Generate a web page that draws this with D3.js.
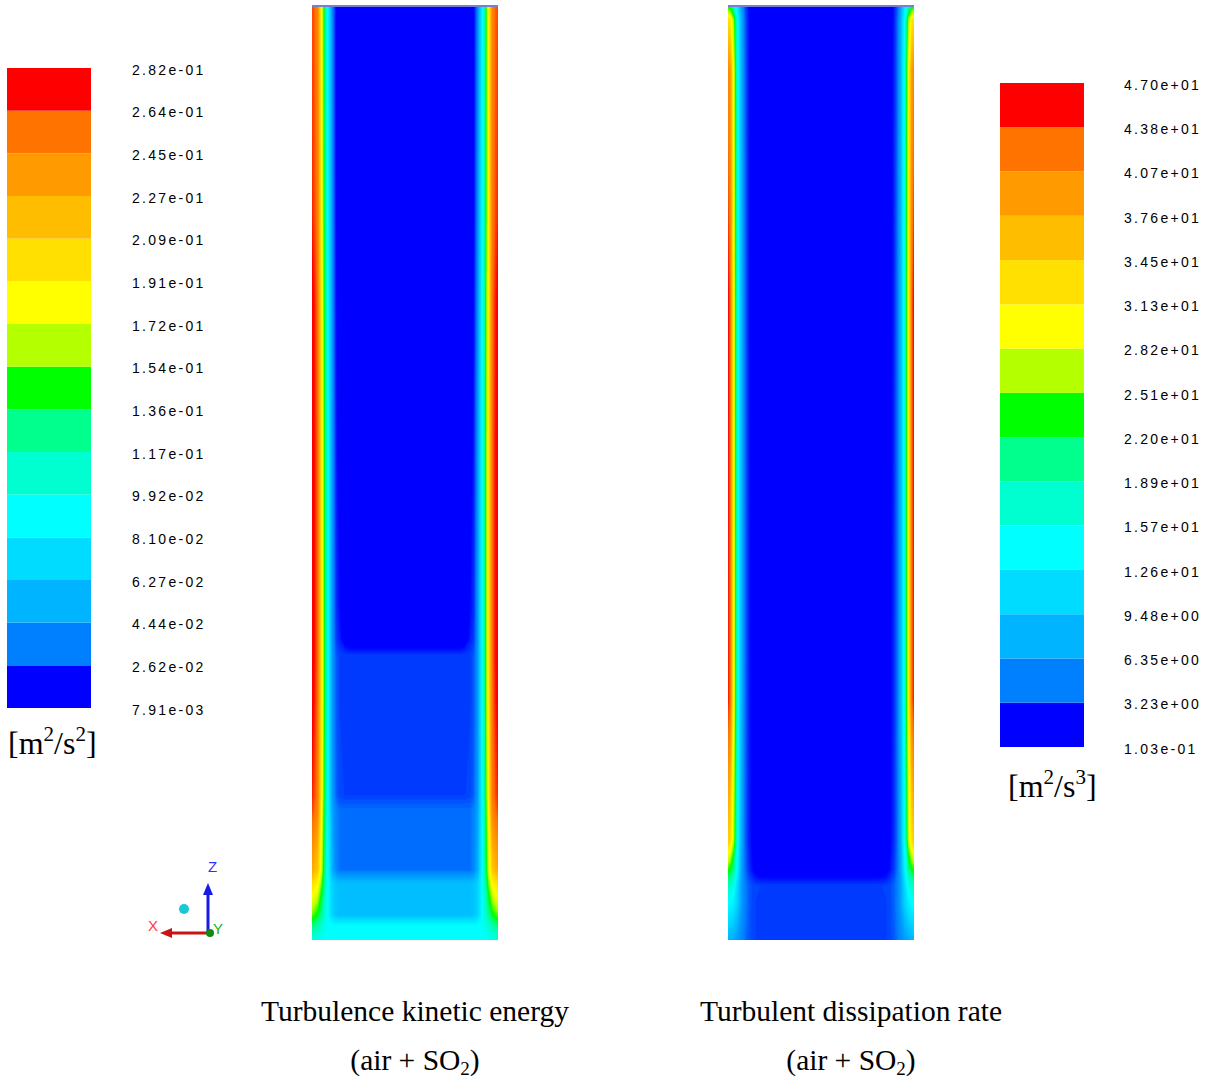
<!DOCTYPE html>
<html>
<head>
<meta charset="utf-8">
<script src="https://cdn.jsdelivr.net/npm/d3@7"></script>
<style>
    body { margin: 0; background: #fff; }
    svg { display: block; }
    .lab { font-family: "Liberation Sans", Arial, sans-serif; font-size: 14px; letter-spacing: 2.3px; fill: #000; }
    .unit { font-family: "Liberation Serif", "Times New Roman", serif; font-size: 32px; fill: #000; }
    .cap { font-family: "Liberation Serif", "Times New Roman", serif; font-size: 29.5px; fill: #000; }
    .axl { font-family: "Liberation Sans", Arial, sans-serif; font-size: 15px; }
</style>
</head>
<body>
<svg id="chart"></svg>
<script>
var width = 1212;
var height = 1078;

// legend band colours, lowest band first
var bandColors = ["#0000ff", "#0080ff", "#00b4ff", "#00dcff", "#00ffff", "#00ffd0", "#00ff8c",
    "#00ff00", "#b4ff00", "#ffff00", "#ffe000", "#ffbd00", "#ff9a00", "#ff7300", "#ff0000"];

var kLabels = ["7.91e-03", "2.62e-02", "4.44e-02", "6.27e-02", "8.10e-02", "9.92e-02", "1.17e-01",
    "1.36e-01", "1.54e-01", "1.72e-01", "1.91e-01", "2.09e-01", "2.27e-01", "2.45e-01", "2.64e-01", "2.82e-01"];

var epsLabels = ["1.03e-01", "3.23e+00", "6.35e+00", "9.48e+00", "1.26e+01", "1.57e+01", "1.89e+01",
    "2.20e+01", "2.51e+01", "2.82e+01", "3.13e+01", "3.45e+01", "3.76e+01", "4.07e+01", "4.38e+01", "4.70e+01"];

// sample columns: distance from the wall, as a fraction of the column width (half profile, mirrored)
var colOffsets = [0, 0.012, 0.03, 0.05, 0.07, 0.09, 0.11, 0.13, 0.15, 0.18, 0.21, 0.30, 0.50];

// heights of the sample rows (0 = bottom, 1 = top)
var kHeights = [0, 0.015, 0.027, 0.060, 0.075, 0.138, 0.155, 0.257, 0.304, 0.321, 0.353, 0.524, 0.684, 0.775, 1];
var kField = [
    [0.100, 0.099, 0.097, 0.095, 0.092, 0.090, 0.090, 0.090, 0.090, 0.090, 0.090, 0.090, 0.090],
    [0.128, 0.125, 0.118, 0.108, 0.098, 0.092, 0.090, 0.090, 0.090, 0.090, 0.090, 0.090, 0.090],
    [0.155, 0.150, 0.142, 0.125, 0.105, 0.085, 0.068, 0.061, 0.059, 0.059, 0.059, 0.059, 0.059],
    [0.200, 0.195, 0.185, 0.155, 0.115, 0.085, 0.068, 0.061, 0.059, 0.059, 0.059, 0.059, 0.059],
    [0.228, 0.222, 0.212, 0.172, 0.120, 0.080, 0.052, 0.038, 0.033, 0.033, 0.033, 0.033, 0.033],
    [0.262, 0.256, 0.245, 0.185, 0.125, 0.078, 0.048, 0.037, 0.033, 0.033, 0.033, 0.033, 0.033],
    [0.268, 0.262, 0.250, 0.190, 0.127, 0.078, 0.044, 0.031, 0.027, 0.026, 0.026, 0.026, 0.026],
    [0.280, 0.270, 0.254, 0.194, 0.130, 0.080, 0.043, 0.030, 0.026, 0.026, 0.026, 0.026, 0.026],
    [0.282, 0.272, 0.255, 0.195, 0.130, 0.080, 0.043, 0.030, 0.026, 0.026, 0.026, 0.026, 0.026],
    [0.282, 0.272, 0.255, 0.195, 0.130, 0.080, 0.042, 0.026, 0.021, 0.012, 0.008, 0.008, 0.008],
    [0.282, 0.272, 0.255, 0.195, 0.130, 0.080, 0.042, 0.024, 0.018, 0.009, 0.008, 0.008, 0.008],
    [0.282, 0.272, 0.255, 0.195, 0.130, 0.080, 0.042, 0.021, 0.012, 0.008, 0.008, 0.008, 0.008],
    [0.280, 0.270, 0.253, 0.192, 0.128, 0.078, 0.040, 0.019, 0.010, 0.008, 0.008, 0.008, 0.008],
    [0.268, 0.262, 0.250, 0.188, 0.125, 0.076, 0.039, 0.018, 0.009, 0.008, 0.008, 0.008, 0.008],
    [0.262, 0.258, 0.246, 0.185, 0.122, 0.074, 0.038, 0.017, 0.008, 0.008, 0.008, 0.008, 0.008]
];

var epsHeights = [0, 0.037, 0.058, 0.075, 0.107, 0.257, 0.684, 0.930, 0.984, 1];
var epsField = [
    [8.0, 7.8, 7.3, 6.5, 5.5, 4.5, 3.8, 3.4, 3.2, 3.2, 3.2, 3.2, 3.2],
    [14.0, 13.5, 12.5, 10.0, 7.0, 5.0, 4.0, 3.4, 3.2, 3.2, 3.2, 3.2, 3.2],
    [18.0, 17.5, 15.5, 11.0, 7.0, 5.0, 4.0, 3.5, 3.3, 3.2, 3.2, 3.2, 3.2],
    [24.0, 23.0, 20.0, 13.0, 7.5, 4.5, 3.0, 2.0, 1.0, 0.6, 0.5, 0.5, 0.5],
    [35.0, 33.0, 27.0, 15.0, 8.0, 4.3, 2.6, 1.6, 0.8, 0.5, 0.5, 0.5, 0.5],
    [45.0, 42.0, 30.0, 16.0, 8.5, 4.5, 2.6, 1.4, 0.7, 0.5, 0.5, 0.5, 0.5],
    [46.0, 42.0, 30.0, 16.0, 8.5, 4.5, 2.3, 1.1, 0.5, 0.4, 0.4, 0.4, 0.4],
    [41.0, 39.0, 29.0, 15.5, 8.2, 4.3, 2.2, 1.0, 0.4, 0.4, 0.4, 0.4, 0.4],
    [33.0, 32.0, 26.0, 14.5, 8.0, 4.2, 2.1, 1.0, 0.4, 0.4, 0.4, 0.4, 0.4],
    [22.0, 21.0, 18.0, 12.0, 7.0, 3.8, 2.0, 0.9, 0.4, 0.4, 0.4, 0.4, 0.4]
];

var svg = d3.select("#chart")
    .attr("width", width)
    .attr("height", height);

var panelW = 186;
var panelTop = 5;
var panelBottom = 940;

var fullCols = colOffsets.concat(colOffsets.slice(0, -1).reverse().map(function (o) {
    return 1 - o;
}));

function mirror(row) {
    return row.concat(row.slice(0, -1).reverse());
}

function colorScale(labels) {
    var levels = labels.map(Number);
    var mids = [];
    for (var i = 0; i < levels.length - 1; i++) {
        mids.push((levels[i] + levels[i + 1]) / 2);
    }
    return d3.scaleLinear().domain(mids).range(bandColors).clamp(true);
}

function drawField(field, heights, labels, left) {
    var levels = labels.map(Number);
    var color = colorScale(labels);
    var x = d3.scaleLinear().domain([0, 1]).range([left, left + panelW]);
    var y = d3.scaleLinear().domain([0, 1]).range([panelBottom, panelTop]);

    var n = fullCols.length;
    var m = heights.length;
    var values = [];
    field.forEach(function (row) {
        values = values.concat(mirror(row));
    });

    // grid index -> pixel, through the (uneven) sample positions
    var gx = d3.scaleLinear()
        .domain(d3.range(n).map(function (i) { return i + 0.5; }))
        .range(fullCols.map(x))
        .clamp(true);
    var gy = d3.scaleLinear()
        .domain(d3.range(m).map(function (j) { return j + 0.5; }))
        .range(heights.map(y))
        .clamp(true);

    var lo = levels[0];
    var hi = levels[levels.length - 1];
    var steps = 150;
    var thr = d3.range(steps).map(function (i) {
        return lo + (hi - lo) * i / steps;
    });

    var contours = d3.contours().size([n, m]).thresholds(thr)(values);

    var path = d3.geoPath(d3.geoTransform({
        point: function (px, py) {
            this.stream.point(gx(px), gy(py));
        }
    }));

    var g = svg.append("g");
    g.selectAll("path")
        .data(contours)
        .join("path")
        .attr("d", path)
        .attr("fill", function (d) {
            return color(d.value + (hi - lo) / steps / 2);
        });

    // thin edge at the top of the domain
    g.append("rect")
        .attr("x", left)
        .attr("y", panelTop)
        .attr("width", panelW)
        .attr("height", 2)
        .attr("fill", "#7580d4");
}

function drawLegend(labels, left, top, bottom, labelX) {
    var barW = 84;
    var yIdx = d3.scaleLinear().domain([0, bandColors.length]).range([bottom, top]);
    var g = svg.append("g");

    g.selectAll("rect")
        .data(bandColors)
        .join("rect")
        .attr("x", left)
        .attr("y", function (d, i) { return yIdx(i + 1); })
        .attr("width", barW)
        .attr("height", function (d, i) { return yIdx(i) - yIdx(i + 1); })
        .attr("fill", function (d) { return d; });

    g.selectAll("text")
        .data(labels)
        .join("text")
        .attr("class", "lab")
        .attr("x", labelX)
        .attr("y", function (d, i) { return yIdx(i) + 3; })
        .attr("dominant-baseline", "middle")
        .text(function (d) { return d; });
}

function drawUnit(x, y, exp) {
    var t = svg.append("text").attr("class", "unit").attr("x", x).attr("y", y);
    t.append("tspan").text("[m");
    t.append("tspan").attr("font-size", "21px").attr("dy", -13).text("2");
    t.append("tspan").attr("dy", 13).text("/s");
    t.append("tspan").attr("font-size", "21px").attr("dy", -13).text(exp);
    t.append("tspan").attr("dy", 13).text("]");
}

function drawCaption(cx, title) {
    svg.append("text")
        .attr("class", "cap")
        .attr("x", cx)
        .attr("y", 1021)
        .attr("text-anchor", "middle")
        .text(title);
    var t = svg.append("text")
        .attr("class", "cap")
        .attr("x", cx)
        .attr("y", 1070)
        .attr("text-anchor", "middle");
    t.append("tspan").text("(air + SO");
    t.append("tspan").attr("font-size", "19px").attr("dy", 5).text("2");
    t.append("tspan").attr("dy", -5).text(")");
}

drawField(kField, kHeights, kLabels, 312);
drawField(epsField, epsHeights, epsLabels, 728);

drawLegend(kLabels, 7, 68, 708, 132);
drawLegend(epsLabels, 1000, 83, 747, 1124);

drawUnit(8, 754, "2");
drawUnit(1008, 797, "3");

drawCaption(415, "Turbulence kinetic energy");
drawCaption(851, "Turbulent dissipation rate");

// axis triad
var triad = svg.append("g");
triad.append("line")
    .attr("x1", 208).attr("y1", 933).attr("x2", 208).attr("y2", 893)
    .attr("stroke", "#1a1ae6").attr("stroke-width", 3);
triad.append("polygon")
    .attr("points", "208,883 203,895 213,895")
    .attr("fill", "#1a1ae6");
triad.append("line")
    .attr("x1", 208).attr("y1", 933).attr("x2", 170).attr("y2", 933)
    .attr("stroke", "#c81414").attr("stroke-width", 3);
triad.append("polygon")
    .attr("points", "160,933 172,928 172,938")
    .attr("fill", "#c81414");
triad.append("circle")
    .attr("cx", 210).attr("cy", 933).attr("r", 4)
    .attr("fill", "#128a12");
triad.append("circle")
    .attr("cx", 184).attr("cy", 909).attr("r", 5)
    .attr("fill", "#18c8d2");
triad.append("text").attr("class", "axl").attr("x", 208).attr("y", 872)
    .attr("fill", "#3030ff").text("Z");
triad.append("text").attr("class", "axl").attr("x", 148).attr("y", 931)
    .attr("fill", "#ff4040").text("X");
triad.append("text").attr("class", "axl").attr("x", 213).attr("y", 934)
    .attr("fill", "#20b020").text("Y");
</script>
</body>
</html>
